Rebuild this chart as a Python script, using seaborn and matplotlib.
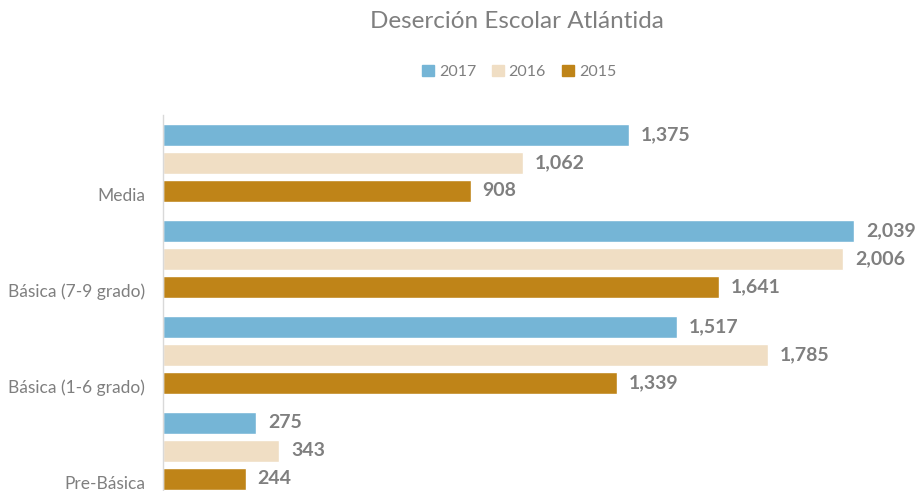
"""
Deserción Escolar Atlántida — barras horizontales por nivel y año.
"""
import numpy as np
import pandas as pd
import matplotlib
matplotlib.use("Agg")
import matplotlib.pyplot as plt
from matplotlib.patches import Patch
import seaborn as sns

# Datos
categorias = ["Media", "Básica (7-9 grado)", "Básica (1-6 grado)", "Pre-Básica"]
anios = ["2017", "2016", "2015"]
v2017 = [1375, 2039, 1517, 275]
v2016 = [1062, 2006, 1785, 343]
v2015 = [908, 1641, 1339, 244]

colores = {"2017": "#75B5D6", "2016": "#F0DEC4", "2015": "#BF8418"}
gris = "#7F7F7F"

sns.set_theme(style="white")
plt.rcParams["font.family"] = ["Lato", "DejaVu Sans"]

df = pd.DataFrame({
    "nivel": categorias * 3,
    "anio": ["2017"] * 4 + ["2016"] * 4 + ["2015"] * 4,
    "valor": v2017 + v2016 + v2015,
})

fig = plt.figure(figsize=(9.19, 4.91), dpi=100)
ax = fig.add_axes([163 / 919, 0.0, 756 / 919, 376 / 491])

sns.barplot(data=df, y="nivel", x="valor", hue="anio", order=categorias,
            hue_order=anios, palette=colores, orient="h", width=0.875,
            gap=0.21, saturation=1, legend=False, ax=ax)

for cont in ax.containers:
    ax.bar_label(cont, labels=[f"{v:,.0f}" for v in cont.datavalues],
                 padding=8.5, color=gris, fontsize=14, fontweight="bold")

ax.set_xlim(0, 2230)
ax.set_ylim(3.417, -0.5)
# etiquetas algo por debajo del centro, como en el original
ax.set_yticks(np.arange(len(categorias)) + 0.33)
ax.set_yticklabels(categorias, color=gris, fontsize=12.5)
ax.tick_params(axis="y", length=0, pad=13)
ax.set_xticks([])
ax.set_xlabel("")
ax.set_ylabel("")
for s in ["top", "right", "bottom"]:
    ax.spines[s].set_visible(False)
ax.spines["left"].set_color("#D9D9D9")
ax.spines["left"].set_linewidth(1)

fig.text(517 / 919, 1 - 22 / 491, "Deserción Escolar Atlántida", ha="center",
         va="center", fontsize=17.5, color=gris)

handles = [Patch(color=colores[a], label=a) for a in anios]
leg = fig.legend(handles=handles, loc="center", bbox_to_anchor=(519 / 919, 1 - 72 / 491),
                 ncol=3, frameon=False, handlelength=0.75, handleheight=0.75,
                 handletextpad=0.3, columnspacing=1.0, fontsize=11.5)
for t in leg.get_texts():
    t.set_color(gris)

fig.savefig("out.png", dpi=100)
